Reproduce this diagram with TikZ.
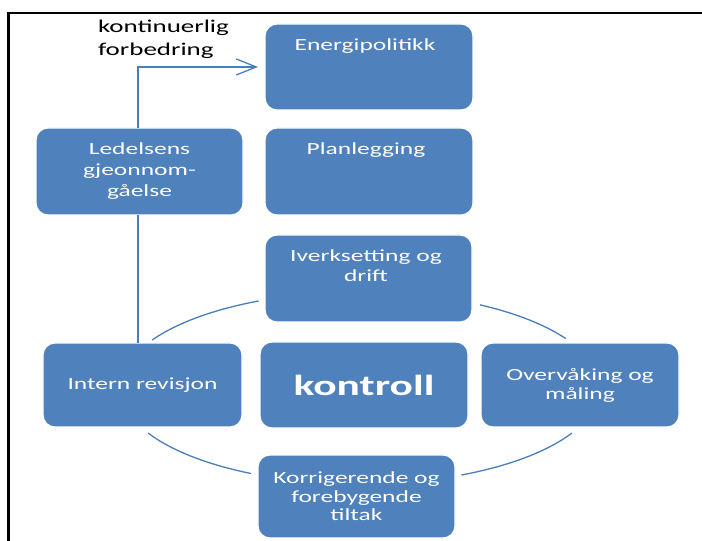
\documentclass[tikz,border=0pt]{standalone}
\usepackage{fontspec}
\setmainfont{Carlito}
\newfontfamily\wfont[FakeStretch=1.5]{Carlito}
\usetikzlibrary{arrows.meta}
\definecolor{boxblue}{RGB}{79,129,189}
\definecolor{lineblue}{RGB}{74,126,187}
\begin{document}
\begin{tikzpicture}[x=1pt,y=1pt,
  box/.style={fill=boxblue, draw=white, line width=1.2pt, rounded corners=12pt,
    inner sep=0pt, outer sep=0pt, text=white, align=center,
    font=\wfont\fontsize{17}{20}\selectfont},
  lbl/.style={inner sep=0pt, outer sep=0pt, text=white, align=center,
    font=\wfont\fontsize{17}{20}\selectfont},
  conn/.style={draw=lineblue, line width=1.3pt},
  frameline/.style={draw=black, line width=2.2pt, line join=miter}]
\useasboundingbox (0,0) rectangle (702,541);
\fill[white] (0,0) rectangle (702,541);
% frame
\draw[frameline] (8.5,0) -- (8.5,528) -- (703,528);
% cycle arcs
\coordinate (c) at (360,153);
\draw[conn] (c) ++(115:240 and 96) arc[start angle=115,end angle=150,x radius=240,y radius=96];
\draw[conn] (c) ++(31:240 and 96) arc[start angle=31,end angle=60,x radius=240,y radius=96];
\draw[conn] (c) ++(-65:240 and 96) arc[start angle=-65,end angle=-28,x radius=240,y radius=96];
\draw[conn] (c) ++(-152:240 and 96) arc[start angle=-152,end angle=-117,x radius=240,y radius=96];
% boxes
\node[box, minimum width=208pt, minimum height=86pt] (energi) at (369,474) {};
\node[lbl, anchor=north] (energiT) at (365,502) {Energipolitikk};
\node[box, minimum width=208pt, minimum height=87pt] (plan) at (369,369.5) {};
\node[lbl, anchor=north] (planT) at (366,398) {Planlegging};
\node[box, minimum width=207pt, minimum height=87pt, font=\wfont\fontsize{17}{21}\selectfont] (led) at (139.5,369.5) {Ledelsens\\gjeonnom-\\gåelse};
\node[box, minimum width=207pt, minimum height=87pt] (iverk) at (368.5,262.5) {};
\node[lbl, anchor=north] (iverkT) at (366,291) {Iverksetting og\\drift};
\node[box, minimum width=199pt, minimum height=84pt] (intern) at (142.5,156) {Intern revisjon};
\node[box, minimum width=208pt, minimum height=86pt, font=\wfont\bfseries\fontsize{29}{32}\selectfont] (kontroll) at (364,156) {kontroll};
\node[box, minimum width=198pt, minimum height=84pt, font=\wfont\fontsize{17}{19}\selectfont] (overv) at (580,156) {Overvåking og\\måling};
\node[box, minimum width=197pt, minimum height=83pt, font=\wfont\fontsize{17}{18.5}\selectfont] (korr) at (356.5,44.5) {Korrigerende og\\forebygende\\tiltak};
% connectors
\coordinate (lx) at (138,0);
\draw[conn] (intern.north -| lx) -- (led.south -| lx);
\draw[conn, -{Straight Barb[length=20pt,width=16pt]}] (led.north -| lx) |- ([xshift=-7pt]energi.west);
% label
\node[inner sep=0pt, outer sep=0pt, anchor=north west, align=left, text=black,
  font=\wfont\fontsize{18}{23}\selectfont] (kf) at (98,521) {kontinuerlig\\forbedring};
\end{tikzpicture}
\end{document}
